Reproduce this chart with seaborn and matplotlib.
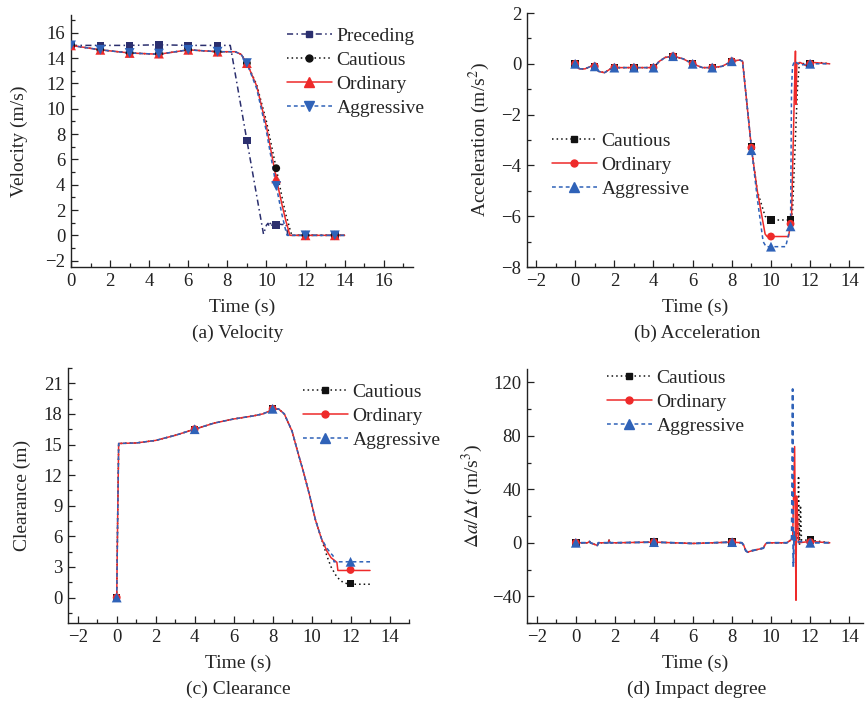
import numpy as np
import pandas as pd
import matplotlib
matplotlib.use("Agg")
import matplotlib.pyplot as plt
import seaborn as sns
from matplotlib.lines import Line2D
from matplotlib.ticker import MultipleLocator, AutoMinorLocator

sns.set_theme(style="ticks")
plt.rcParams['font.family'] = ['Liberation Serif', 'DejaVu Serif']
plt.rcParams['mathtext.fontset'] = 'stix'

# ---------------- data ----------------
# (a) velocity
t_pre = [0, 1.5, 3, 4.5, 6, 7.5, 8.15, 9.0, 9.85, 10.0, 10.08, 10.14, 10.2, 10.26, 10.32, 10.38, 10.44, 10.5,
         10.6, 10.8, 11.0, 11.1, 12, 13.5, 14]
v_pre = [15, 15, 15, 15.05, 15, 15, 15, 7.5, 0.1, 0.8, 0.95, 0.7, 0.95, 0.7, 0.95, 0.7, 0.95, 0.75,
         0.9, 0.85, 0.9, 0.0, 0, 0, 0]
t_fol = [0, 1.5, 3, 4.5, 6, 7.5, 8.4, 8.7, 9.0, 9.5, 10.0, 10.5, 10.8, 11.0, 11.06, 11.2, 11.3, 12, 13.5, 14]
v_cau = [15, 14.65, 14.4, 14.3, 14.65, 14.5, 14.5, 14.3, 13.6, 11.9, 9.0, 5.3, 3.0, 1.6, 1.3, 0.5, 0.0, 0, 0, 0]
v_ord = [15, 14.65, 14.4, 14.3, 14.65, 14.5, 14.5, 14.3, 13.6, 11.8, 8.6, 4.5, 2.4, 1.1, 0.8, 0.0, 0.0, 0, 0, 0]
v_agg = [15, 14.65, 14.4, 14.3, 14.65, 14.5, 14.5, 14.3, 13.6, 11.6, 8.2, 3.9, 1.6, 0.3, 0.0, 0.0, 0.0, 0, 0, 0]
tm_a = [0, 1.5, 3, 4.5, 6, 7.5, 9, 10.5, 12, 13.5]
vm_pre = [15, 15, 15, 15.05, 15, 15, 7.5, 0.8, 0, 0]
vm_cau = [15, 14.65, 14.4, 14.35, 14.65, 14.5, 13.6, 5.3, 0, 0]
vm_ord = [15, 14.65, 14.4, 14.35, 14.65, 14.5, 13.6, 4.5, 0, 0]
vm_agg = [15, 14.65, 14.4, 14.35, 14.65, 14.5, 13.6, 3.9, 0, 0]

# (b) acceleration
t_acc0 = [0, 0.2, 0.5, 0.8, 1.0, 1.2, 1.5, 1.8, 2.0, 3.0, 4.0, 4.3, 4.6, 5.0, 5.5, 6.0, 6.5, 7.0, 7.5, 8.0, 8.4, 8.55, 9.0]
a_acc0 = [0, -0.2, -0.2, -0.1, -0.1, -0.3, -0.35, -0.2, -0.15, -0.15, -0.15, 0.1, 0.25, 0.3, 0.2, 0.0, -0.15, -0.15, -0.1, 0.1, 0.15, 0.1, -3.3]
t_acc_cau = [9.3, 9.7, 10.0, 11.0, 11.1, 11.35, 11.45, 11.7, 12.0, 12.5, 13.0]
a_acc_cau = [-5.0, -6.0, -6.15, -6.15, -5.8, -1.0, 0.05, 0.0, 0.0, 0.05, 0.0]
t_acc_ord = [9.3, 9.7, 9.8, 10.9, 11.05, 11.2, 11.25, 11.28, 11.32, 11.5, 11.8, 12.2, 13.0]
a_acc_ord = [-5.0, -6.7, -6.8, -6.8, -6.0, -1.0, 0.5, -1.6, 0.0, 0.05, -0.08, 0.05, 0.0]
t_acc_agg = [9.3, 9.6, 9.75, 10.75, 11.0, 11.05, 11.1, 11.2, 11.5, 12.0, 13.0]
a_acc_agg = [-5.3, -7.0, -7.2, -7.2, -6.4, -1.0, -0.1, 0.1, -0.05, 0.0, 0.0]
tm_b = [0, 1, 2, 3, 4, 5, 6, 7, 8, 9, 10, 11, 12]
am_cau = [0, -0.1, -0.15, -0.15, -0.15, 0.3, 0, -0.15, 0.1, -3.25, -6.15, -6.15, 0]
am_ord = [0, -0.1, -0.15, -0.15, -0.15, 0.3, 0, -0.15, 0.1, -3.3, -6.8, -6.3, 0]
am_agg = [0, -0.1, -0.15, -0.15, -0.15, 0.3, 0, -0.15, 0.1, -3.4, -7.2, -6.4, 0]

# (c) clearance
t_cl0 = [0, 0.05, 0.1, 1, 2, 3, 4, 5, 6, 7, 7.5, 8, 8.3, 8.6, 9.0, 9.3, 9.6, 9.9, 10.2, 10.5]
c_cl0 = [0, 8, 15.1, 15.15, 15.4, 15.9, 16.5, 17.1, 17.5, 17.8, 18.0, 18.4, 18.5, 18.0, 16.3, 14.2, 12.2, 10.0, 7.6, 5.8]
t_cl_cau = [10.8, 11.0, 11.3, 11.6, 11.9, 13.0]
c_cl_cau = [4.0, 3.0, 2.0, 1.5, 1.3, 1.3]
t_cl_ord = [10.8, 11.0, 11.3, 11.35, 13.0]
c_cl_ord = [4.5, 3.9, 3.45, 2.65, 2.65]
t_cl_agg = [10.8, 11.0, 11.1, 11.15, 13.0]
c_cl_agg = [4.8, 4.3, 4.1, 3.5, 3.5]
tm_c = [0, 4, 8, 12]
cm_cau = [0, 16.5, 18.5, 1.4]
cm_ord = [0, 16.5, 18.5, 2.7]
cm_agg = [0, 16.5, 18.5, 3.5]

# (d) impact degree
t_im0 = [0, 0.05, 0.1, 0.6, 0.7, 0.75, 1.1, 1.15, 1.2, 1.65, 1.7, 1.75, 2, 4, 6, 8, 8.5, 8.6, 8.7, 8.8, 9.0, 9.3, 9.6, 9.7, 9.8, 10.8, 11.0]
d_im0 = [0, -2, 0, 0, 1, 0, -2, 0, 0, 0, 2, 0, 0, 0.5, -0.5, 0.5, 0, -2, -6, -7, -6, -5, -4, -1, 0, 0, 2]
t_im_cau = [11.2, 11.35, 11.4, 11.45, 11.5, 11.55, 12.0, 13.0]
d_im_cau = [2, 3, 50, -2, 28, 2, 2, 0]
t_im_ord = [11.1, 11.2, 11.27, 11.3, 11.35, 11.4, 12.0, 13.0]
d_im_ord = [4, 72, -43, 35, 20, 0, 1, 0]
t_im_agg = [11.05, 11.1, 11.13, 11.18, 11.25, 11.5, 12.0, 13.0]
d_im_agg = [3, 115, -18, 8, 0, 1, 0, 0]
tm_d = [0, 4, 8, 12]
dm_cau = [0, 0.5, 0.5, 2]
dm_ord = [0, 0.5, 0.5, 0.5]
dm_agg = [0, 0.5, 0.5, 0]

# ---------------- style ----------------
C_PRE = '#2b2f6e'
C_CAU = '#111111'
C_ORD = '#ee2a2a'
C_AGG = '#2f62b8'
LS_PRE = (0, (4, 2.2, 1, 2.2))
LS_CAU = (0, (1, 2))
LS_ORD = '-'
LS_AGG = (0, (2.5, 2))
FS = 14
FS_T = 13.5
W, H = 865, 702

fig = plt.figure(figsize=(W / 100, H / 100), dpi=100)


def make_ax(l, r, b, t):
    ax = fig.add_axes([l / W, 1 - b / H, (r - l) / W, (b - t) / H])
    for s in ['top', 'right']:
        ax.spines[s].set_visible(False)
    for s in ['left', 'bottom']:
        ax.spines[s].set_linewidth(1.0)
        ax.spines[s].set_color('#222222')
    ax.tick_params(which='both', direction='in', labelsize=FS_T, colors='#222222', width=0.9)
    ax.tick_params(which='major', length=5, pad=4)
    ax.tick_params(which='minor', length=3)
    ax.xaxis.set_minor_locator(AutoMinorLocator(2))
    ax.yaxis.set_minor_locator(AutoMinorLocator(2))
    ax.set_facecolor('white')
    return ax


def labels(ax, l, r, b, t, xl, yl, ylx, cap, capx):
    wpx, hpx = r - l, b - t
    ax.set_xlabel(xl, fontsize=FS, va='center', ha='center')
    ax.xaxis.set_label_coords(0.5, -40 / hpx)
    ax.set_ylabel(yl, fontsize=FS, va='center', ha='center')
    ax.yaxis.set_label_coords((ylx - l) / wpx, 0.5)
    fig.text(capx / W, 1 - (b + 66) / H, cap, ha='center', va='center', fontsize=FS)


def line(ax, t, y, color, ls, lw=1.1, z=2):
    df = pd.DataFrame({'t': t, 'y': y})
    sns.lineplot(data=df, x='t', y='y', ax=ax, color=color, linestyle=ls, linewidth=lw,
                 estimator=None, sort=False, zorder=z, legend=False)


def marks(ax, t, y, color, m, s=40, z=3):
    df = pd.DataFrame({'t': t, 'y': y})
    sns.scatterplot(data=df, x='t', y='y', ax=ax, color=color, marker=m, s=s,
                    edgecolor='none', zorder=z, legend=False)


def leg(ax, items, x, yc):
    hs = [Line2D([0], [0], color=c, linestyle=ls, linewidth=1.1, marker=m, markersize=ms,
                 markeredgecolor=c) for c, ls, m, ms, _ in items]
    lb = [it[4] for it in items]
    ax.legend(hs, lb, loc='center left', bbox_to_anchor=(x / W, 1 - yc / H), bbox_transform=fig.transFigure,
              frameon=False, fontsize=FS, handlelength=2.3, handletextpad=0.25, labelspacing=0.33,
              borderpad=0, borderaxespad=0)


# ---- (a) ----
L, R, B, T = 71, 413, 267, 15
ax = make_ax(L, R, B, T)
line(ax, t_pre, v_pre, C_PRE, LS_PRE)
line(ax, t_fol, v_cau, C_CAU, LS_CAU)
line(ax, t_fol, v_ord, C_ORD, LS_ORD)
line(ax, t_fol, v_agg, C_AGG, LS_AGG)
marks(ax, tm_a, vm_pre, C_PRE, 's', 30)
marks(ax, tm_a, vm_cau, C_CAU, 'o', 32)
marks(ax, tm_a, vm_ord, C_ORD, '^', 50)
marks(ax, tm_a, vm_agg, C_AGG, 'v', 50)
ax.set_xlim(0, 17.5)
ax.set_ylim(-2.5, 17.4)
ax.xaxis.set_major_locator(MultipleLocator(2))
ax.yaxis.set_major_locator(MultipleLocator(2))
labels(ax, L, R, B, T, 'Time (s)', 'Velocity (m/s)', 19, '(a) Velocity', 238)
leg(ax, [(C_PRE, LS_PRE, 's', 5, 'Preceding'), (C_CAU, LS_CAU, 'o', 5, 'Cautious'),
         (C_ORD, LS_ORD, '^', 7, 'Ordinary'), (C_AGG, LS_AGG, 'v', 7, 'Aggressive')], 287, 72)

# ---- (b) ----
L, R, B, T = 527, 863, 267, 13
ax = make_ax(L, R, B, T)
line(ax, t_acc0 + t_acc_cau, a_acc0 + a_acc_cau, C_CAU, LS_CAU)
line(ax, t_acc0 + t_acc_ord, a_acc0 + a_acc_ord, C_ORD, LS_ORD)
line(ax, t_acc0 + t_acc_agg, a_acc0 + a_acc_agg, C_AGG, LS_AGG)
marks(ax, tm_b, am_cau, C_CAU, 's', 28)
marks(ax, tm_b, am_ord, C_ORD, 'o', 32)
marks(ax, tm_b, am_agg, C_AGG, '^', 50)
ax.set_xlim(-2.46, 14.7)
ax.set_ylim(-8, 2)
ax.xaxis.set_major_locator(MultipleLocator(2))
ax.yaxis.set_major_locator(MultipleLocator(2))
labels(ax, L, R, B, T, 'Time (s)', 'Acceleration (m/s$^2$)', 479, '(b) Acceleration', 697)
leg(ax, [(C_CAU, LS_CAU, 's', 5, 'Cautious'), (C_ORD, LS_ORD, 'o', 5, 'Ordinary'),
         (C_AGG, LS_AGG, '^', 7, 'Aggressive')], 552, 165)

# ---- (c) ----
L, R, B, T = 68, 409, 623, 368
ax = make_ax(L, R, B, T)
line(ax, t_cl0 + t_cl_cau, c_cl0 + c_cl_cau, C_CAU, LS_CAU)
line(ax, t_cl0 + t_cl_ord, c_cl0 + c_cl_ord, C_ORD, LS_ORD)
line(ax, t_cl0 + t_cl_agg, c_cl0 + c_cl_agg, C_AGG, LS_AGG)
marks(ax, tm_c, cm_cau, C_CAU, 's', 28)
marks(ax, tm_c, cm_ord, C_ORD, 'o', 32)
marks(ax, tm_c, cm_agg, C_AGG, '^', 50)
ax.set_xlim(-2.5, 15)
ax.set_ylim(-2.5, 22.5)
ax.xaxis.set_major_locator(MultipleLocator(2))
ax.yaxis.set_major_locator(MultipleLocator(3))
labels(ax, L, R, B, T, 'Time (s)', 'Clearance (m)', 22, '(c) Clearance', 238)
leg(ax, [(C_CAU, LS_CAU, 's', 5, 'Cautious'), (C_ORD, LS_ORD, 'o', 5, 'Ordinary'),
         (C_AGG, LS_AGG, '^', 7, 'Aggressive')], 303, 416)

# ---- (d) ----
L, R, B, T = 527, 863, 623, 369
ax = make_ax(L, R, B, T)
line(ax, t_im0 + t_im_cau, d_im0 + d_im_cau, C_CAU, LS_CAU)
line(ax, t_im0 + t_im_ord, d_im0 + d_im_ord, C_ORD, LS_ORD)
line(ax, t_im0 + t_im_agg, d_im0 + d_im_agg, C_AGG, LS_AGG, lw=1.4)
marks(ax, tm_d, dm_cau, C_CAU, 's', 28)
marks(ax, tm_d, dm_ord, C_ORD, 'o', 32)
marks(ax, tm_d, dm_agg, C_AGG, '^', 50)
ax.set_xlim(-2.5, 14.7)
ax.set_ylim(-60, 130)
ax.xaxis.set_major_locator(MultipleLocator(2))
ax.yaxis.set_major_locator(MultipleLocator(40))
labels(ax, L, R, B, T, 'Time (s)', r'$\Delta a/\Delta t$ (m/s$^3$)', 472, '(d) Impact degree', 697)
leg(ax, [(C_CAU, LS_CAU, 's', 5, 'Cautious'), (C_ORD, LS_ORD, 'o', 5, 'Ordinary'),
         (C_AGG, LS_AGG, '^', 7, 'Aggressive')], 607, 402)

fig.savefig('out.png', dpi=100, facecolor='white')
